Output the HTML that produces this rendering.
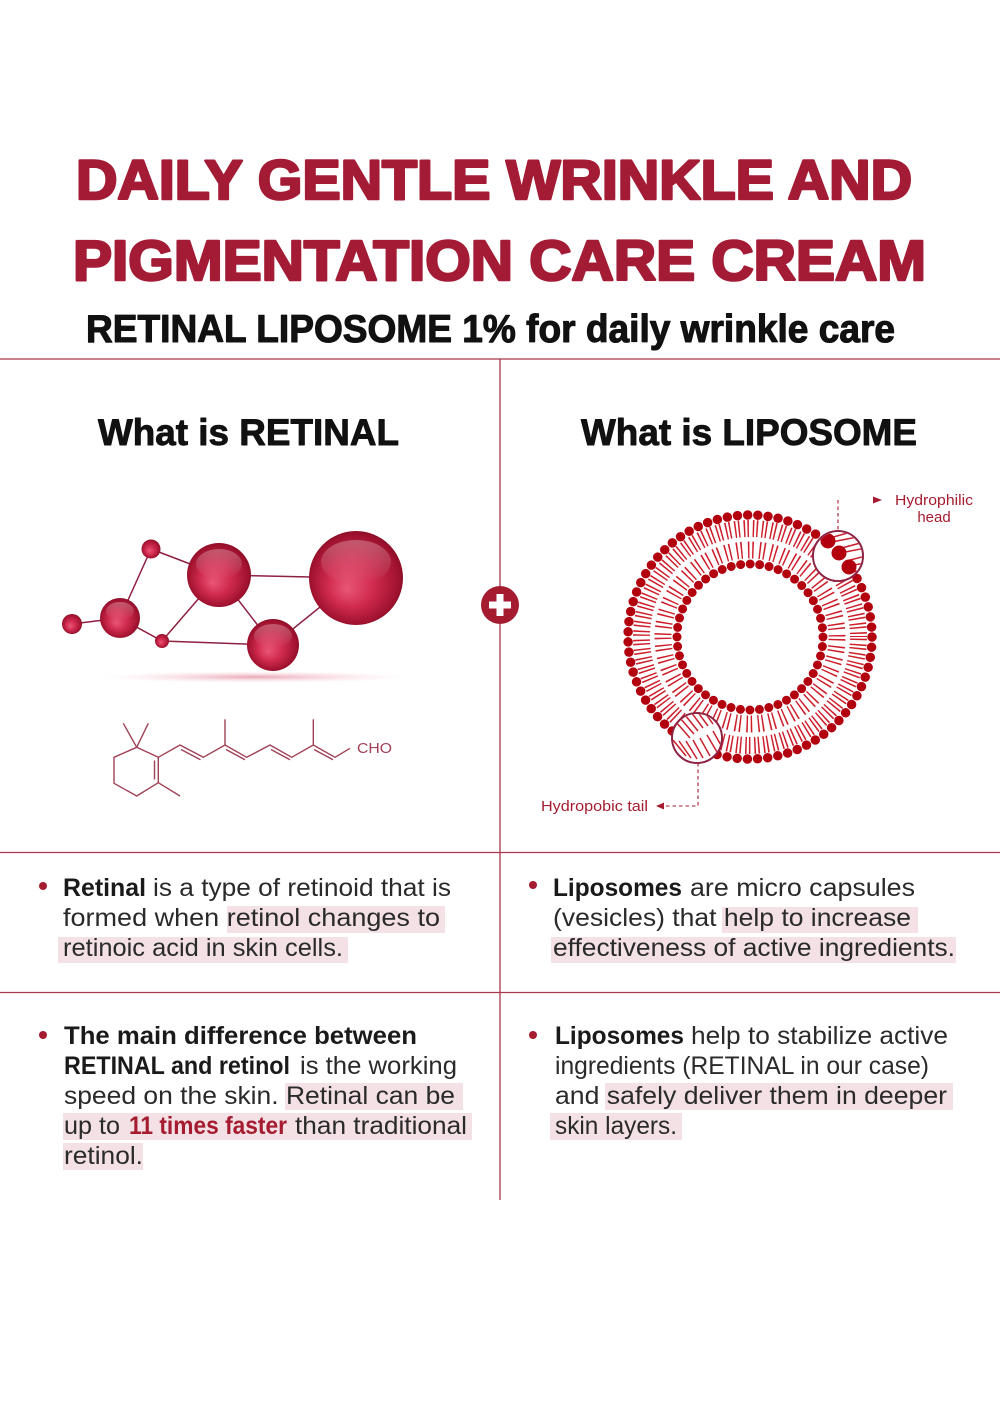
<!DOCTYPE html>
<html>
<head>
<meta charset="utf-8">
<style>
html,body{margin:0;padding:0;background:#fff;}
svg{display:block;}
.t{font-family:"Liberation Sans",Arial,sans-serif;}
</style>
</head>
<body>
<svg width="1000" height="1420" viewBox="0 0 1000 1420" xmlns="http://www.w3.org/2000/svg">
<defs>
  <radialGradient id="sg" cx="0.5" cy="0.5" r="0.55" fx="0.4" fy="0.62">
    <stop offset="0" stop-color="#ea5676"/>
    <stop offset="0.45" stop-color="#cf2a4e"/>
    <stop offset="0.85" stop-color="#a0122f"/>
    <stop offset="1" stop-color="#7c0a21"/>
  </radialGradient>
  <linearGradient id="gl" x1="0" y1="0" x2="0" y2="1">
    <stop offset="0" stop-color="#fff" stop-opacity="0.28"/>
    <stop offset="1" stop-color="#fff" stop-opacity="0"/>
  </linearGradient>
  <radialGradient id="sh" cx="0.5" cy="0.5" r="0.5">
    <stop offset="0" stop-color="#d9607a" stop-opacity="0.55"/>
    <stop offset="1" stop-color="#f4c6d0" stop-opacity="0"/>
  </radialGradient>
  <clipPath id="c1"><circle cx="838" cy="556" r="24"/></clipPath>
  <clipPath id="c2"><circle cx="697" cy="738" r="24"/></clipPath>
</defs>

<rect width="1000" height="1420" fill="#fff"/>

<!-- Title -->
<g class="t" fill="#a31b34" stroke="#a31b34" stroke-width="2.6" stroke-linejoin="round" font-weight="700">
  <text x="76" y="199" font-size="56" textLength="836" lengthAdjust="spacingAndGlyphs">DAILY GENTLE WRINKLE AND</text>
  <text x="73" y="280" font-size="57" textLength="853" lengthAdjust="spacingAndGlyphs">PIGMENTATION CARE CREAM</text>
</g>
<text class="t" x="86" y="342" font-size="39" font-weight="700" fill="#111" stroke="#111" stroke-width="1.1" stroke-linejoin="round" textLength="809" lengthAdjust="spacingAndGlyphs">RETINAL LIPOSOME 1% for daily wrinkle care</text>

<!-- Grid lines -->
<g stroke="#a8374b" stroke-width="1.3">
  <line x1="0" y1="359" x2="1000" y2="359"/>
  <line x1="0" y1="852.5" x2="1000" y2="852.5"/>
  <line x1="0" y1="992.5" x2="1000" y2="992.5"/>
  <line x1="500" y1="359" x2="500" y2="1200"/>
</g>

<!-- Headings -->
<g class="t" font-weight="700" fill="#111" stroke="#111" stroke-width="0.9" stroke-linejoin="round" font-size="37">
  <text x="98" y="445" textLength="301" lengthAdjust="spacingAndGlyphs">What is RETINAL</text>
  <text x="581" y="445" textLength="336" lengthAdjust="spacingAndGlyphs">What is LIPOSOME</text>
</g>

<!-- Plus icon -->
<circle cx="500" cy="605" r="19" fill="#a51c30"/>
<rect x="489" y="601.5" width="22" height="7" fill="#fff"/>
<rect x="496.5" y="594" width="7" height="22" fill="#fff"/>

<!-- Molecule -->
<ellipse cx="255" cy="677" rx="155" ry="6" fill="url(#sh)"/>
<g stroke="#8e2040" stroke-width="1.5">
  <line x1="72" y1="624" x2="120" y2="618"/>
  <line x1="120" y1="618" x2="151" y2="549"/>
  <line x1="151" y1="549" x2="219" y2="575"/>
  <line x1="120" y1="618" x2="162" y2="641"/>
  <line x1="162" y1="641" x2="219" y2="575"/>
  <line x1="162" y1="641" x2="273" y2="645"/>
  <line x1="219" y1="575" x2="356" y2="578"/>
  <line x1="219" y1="575" x2="273" y2="645"/>
  <line x1="273" y1="645" x2="356" y2="578"/>
</g>
<g>
  <circle cx="72" cy="624" r="10" fill="url(#sg)"/>
  <circle cx="120" cy="618" r="20" fill="url(#sg)"/>
  <circle cx="151" cy="549" r="9.5" fill="url(#sg)"/>
  <circle cx="162" cy="641" r="7" fill="url(#sg)"/>
  <circle cx="219" cy="575" r="32" fill="url(#sg)"/>
  <circle cx="273" cy="645" r="26" fill="url(#sg)"/>
  <circle cx="356" cy="578" r="47" fill="url(#sg)"/>
  <ellipse cx="120" cy="611" rx="14" ry="9" fill="url(#gl)"/>
  <ellipse cx="219" cy="564" rx="23" ry="15" fill="url(#gl)"/>
  <ellipse cx="273" cy="636" rx="19" ry="12" fill="url(#gl)"/>
  <ellipse cx="356" cy="562" rx="35" ry="22" fill="url(#gl)"/>
</g>

<!-- Structural formula -->
<g stroke="#a04156" stroke-width="1.4" fill="none" stroke-linejoin="round">
  <polygon points="136.7,747.3 158.3,757.3 158.3,782.7 136.7,796 114,783.3 114,757.3"/>
  <line x1="154.5" y1="760.5" x2="154.5" y2="779.5"/>
  <line x1="136.7" y1="747.3" x2="123.3" y2="723.3"/>
  <line x1="136.7" y1="747.3" x2="148.3" y2="723.3"/>
  <line x1="158.3" y1="782.7" x2="180" y2="796"/>
  <polyline points="158.3,757.3 180,745 203.3,757.3 225,745 246.7,757.3 270,745 291.7,757.3 313.3,745 335,757.3 350,748.3"/>
  <line x1="225" y1="745" x2="225" y2="719.3"/>
  <line x1="313.3" y1="745" x2="313.3" y2="719.3"/>
  <line x1="181" y1="749.5" x2="200.5" y2="759.8"/>
  <line x1="226" y1="749.5" x2="245" y2="759.8"/>
  <line x1="271" y1="749.5" x2="290" y2="759.8"/>
  <line x1="314" y1="749.5" x2="333" y2="759.8"/>
</g>
<text class="t" x="357" y="753" font-size="14.5" fill="#a04156" textLength="35" lengthAdjust="spacingAndGlyphs">CHO</text>

<!-- Liposome -->
<g fill="none">
  <circle cx="750" cy="637" r="108.5" stroke="#cc1f2b" stroke-width="17" stroke-dasharray="1.5 2.2 1.5 3.85" stroke-dashoffset="2"/>
  <circle cx="750" cy="637" r="87" stroke="#cc1f2b" stroke-width="17" stroke-dasharray="1.5 2.8 1.5 5.59" stroke-dashoffset="2.3"/>
  <circle cx="750" cy="637" r="122" stroke="#b3000f" stroke-width="9.5" stroke-linecap="round" stroke-dasharray="0 10.22"/>
  <circle cx="750" cy="637" r="73" stroke="#b3000f" stroke-width="9" stroke-linecap="round" stroke-dasharray="0 9.556"/>
</g>

<!-- Magnifier circles -->
<circle cx="838" cy="556" r="25" fill="#fff" stroke="#8e2444" stroke-width="1.8"/>
<g clip-path="url(#c1)">
  <g stroke="#c8202c" stroke-width="1.5">
    <line x1="830" y1="538" x2="858" y2="530"/>
    <line x1="832" y1="542" x2="862" y2="536"/>
    <line x1="838" y1="549" x2="864" y2="542"/>
    <line x1="840" y1="553" x2="866" y2="548"/>
    <line x1="846" y1="561" x2="866" y2="556"/>
    <line x1="848" y1="566" x2="866" y2="563"/>
    <line x1="852" y1="572" x2="864" y2="570"/>
    <line x1="826" y1="534" x2="850" y2="526"/>
  </g>
  <circle cx="828" cy="541" r="7.5" fill="#b3000f"/>
  <circle cx="839" cy="553" r="7.5" fill="#b3000f"/>
  <circle cx="849" cy="567" r="7.5" fill="#b3000f"/>
  <circle cx="821" cy="530" r="7.5" fill="#b3000f"/>
</g>
<circle cx="838" cy="556" r="25" fill="none" stroke="#8e2444" stroke-width="1.8"/>

<circle cx="697" cy="738" r="25" fill="#fff" stroke="#8e2444" stroke-width="1.8"/>
<g clip-path="url(#c2)" stroke="#c8202c" stroke-width="1.5">
  <line x1="676" y1="722" x2="690" y2="738"/>
  <line x1="680" y1="718" x2="694" y2="734"/>
  <line x1="685" y1="715" x2="698" y2="731"/>
  <line x1="691" y1="712" x2="703" y2="728"/>
  <line x1="697" y1="711" x2="708" y2="726"/>
  <line x1="703" y1="710" x2="713" y2="724"/>
  <line x1="673" y1="740" x2="686" y2="756"/>
  <line x1="679" y1="741" x2="691" y2="758"/>
  <line x1="686" y1="741" x2="697" y2="759"/>
  <line x1="693" y1="740" x2="703" y2="758"/>
  <line x1="700" y1="738" x2="710" y2="756"/>
  <line x1="707" y1="735" x2="717" y2="752"/>
  <line x1="713" y1="731" x2="722" y2="747"/>
</g>
<circle cx="697" cy="738" r="25" fill="none" stroke="#8e2444" stroke-width="1.8"/>

<!-- Label connectors -->
<g stroke="#a51c30" stroke-width="1.1" stroke-dasharray="3.5 3" fill="none">
  <line x1="838" y1="500" x2="838" y2="531"/>
  <polyline points="698,763 698,806 664,806"/>
</g>
<polygon points="873,496.5 882,500 873,503.5" fill="#a51c30"/>
<polygon points="656,806 664,802.5 664,809.5" fill="#a51c30"/>
<g class="t" fill="#a51c30" font-size="15">
  <text x="895" y="505" textLength="78" lengthAdjust="spacingAndGlyphs">Hydrophilic</text>
  <text x="934" y="522" text-anchor="middle">head</text>
  <text x="541" y="811" textLength="107" lengthAdjust="spacingAndGlyphs">Hydropobic tail</text>
</g>

<!-- Highlights -->
<g fill="#f3e1e5">
  <rect x="227" y="906" width="218" height="27"/>
  <rect x="58" y="937" width="290" height="26"/>
  <rect x="722" y="907" width="196" height="26"/>
  <rect x="551" y="937" width="405" height="26"/>
  <rect x="285" y="1083" width="178" height="27"/>
  <rect x="63" y="1113" width="409" height="27"/>
  <rect x="63" y="1143" width="80" height="27"/>
  <rect x="605" y="1083" width="348" height="27"/>
  <rect x="550" y="1113" width="132" height="27"/>
</g>

<!-- Bullets -->
<g fill="#a51c30">
  <circle cx="43" cy="886" r="4"/>
  <circle cx="533" cy="885" r="4"/>
  <circle cx="43" cy="1035" r="4"/>
  <circle cx="533" cy="1035" r="4"/>
</g>

<!-- Body text -->
<g class="t" font-size="25" fill="#2a2a2a">
  <!-- block 1 left -->
  <text x="63" y="896" font-weight="700" fill="#1a1a1a" textLength="83" lengthAdjust="spacingAndGlyphs">Retinal</text>
  <text x="153" y="896" textLength="298" lengthAdjust="spacingAndGlyphs">is a type of retinoid that is</text>
  <text x="63" y="926" textLength="377" lengthAdjust="spacingAndGlyphs">formed when retinol changes to</text>
  <text x="63" y="956" textLength="280" lengthAdjust="spacingAndGlyphs">retinoic acid in skin cells.</text>

  <!-- block 1 right -->
  <text x="553" y="896" font-weight="700" fill="#1a1a1a" textLength="129" lengthAdjust="spacingAndGlyphs">Liposomes</text>
  <text x="690" y="896" textLength="225" lengthAdjust="spacingAndGlyphs">are micro capsules</text>
  <text x="553" y="926" textLength="358" lengthAdjust="spacingAndGlyphs">(vesicles) that help to increase</text>
  <text x="553" y="956" textLength="402" lengthAdjust="spacingAndGlyphs">effectiveness of active ingredients.</text>

  <!-- block 2 left -->
  <text x="64" y="1044" font-weight="700" fill="#1a1a1a" textLength="353" lengthAdjust="spacingAndGlyphs">The main difference between</text>
  <text x="64" y="1074" font-weight="700" fill="#1a1a1a" textLength="226" lengthAdjust="spacingAndGlyphs">RETINAL and retinol</text>
  <text x="300" y="1074" textLength="157" lengthAdjust="spacingAndGlyphs">is the working</text>
  <text x="64" y="1104" textLength="391" lengthAdjust="spacingAndGlyphs">speed  on the skin. Retinal can be</text>
  <text x="64" y="1134" textLength="56" lengthAdjust="spacingAndGlyphs">up to</text>
  <text x="129" y="1134" font-weight="700" fill="#a51c30" textLength="158" lengthAdjust="spacingAndGlyphs">11 times faster</text>
  <text x="295" y="1134" textLength="172" lengthAdjust="spacingAndGlyphs">than traditional</text>
  <text x="64" y="1164" textLength="79" lengthAdjust="spacingAndGlyphs">retinol.</text>

  <!-- block 2 right -->
  <text x="555" y="1044" font-weight="700" fill="#1a1a1a" textLength="129" lengthAdjust="spacingAndGlyphs">Liposomes</text>
  <text x="691" y="1044" textLength="257" lengthAdjust="spacingAndGlyphs">help to stabilize active</text>
  <text x="555" y="1074" textLength="374" lengthAdjust="spacingAndGlyphs">ingredients (RETINAL in our case)</text>
  <text x="555" y="1104" textLength="392" lengthAdjust="spacingAndGlyphs">and safely deliver them in deeper</text>
  <text x="555" y="1134" textLength="122" lengthAdjust="spacingAndGlyphs">skin layers.</text>
</g>
</svg>
</body>
</html>
